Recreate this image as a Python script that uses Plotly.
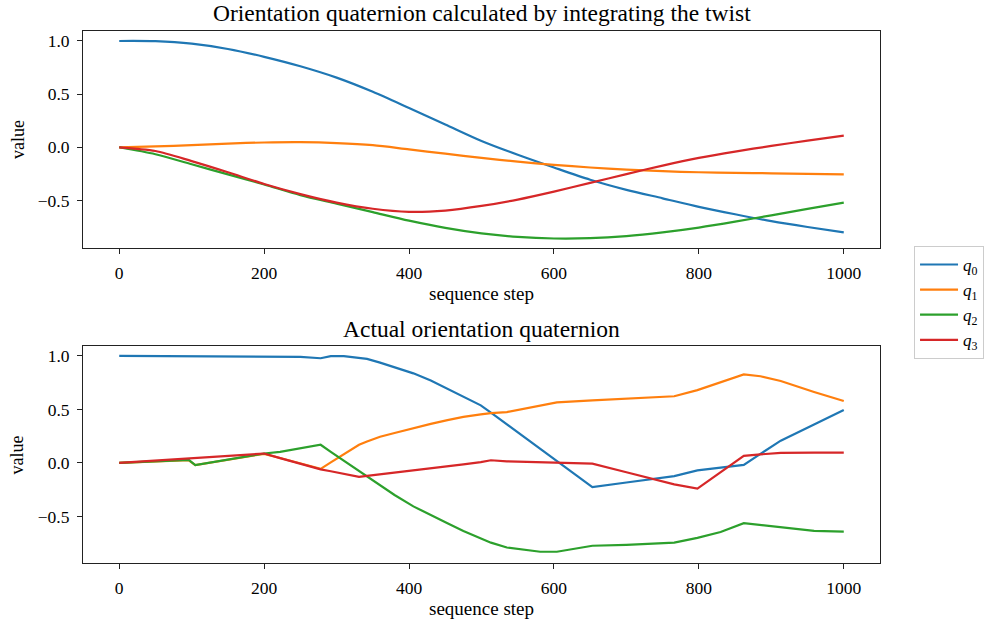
import plotly.graph_objects as go

# ---- integrated-twist quaternion (sampled every 50 steps) ----
steps_int = [0, 50, 100, 150, 200, 250, 300, 350, 400, 450, 500,
             550, 600, 650, 700, 750, 800, 850, 900, 950, 1000]
q0_int = [1.0, 0.998, 0.975, 0.925, 0.851, 0.762, 0.655, 0.522, 0.37, 0.215, 0.06,
          -0.07, -0.19, -0.305, -0.40, -0.48, -0.56, -0.63, -0.695, -0.75, -0.80]
q1_int = [0.0, 0.008, 0.02, 0.035, 0.045, 0.048, 0.04, 0.02, -0.02, -0.06, -0.10,
          -0.135, -0.165, -0.19, -0.21, -0.225, -0.235, -0.24, -0.245, -0.25, -0.255]
q2_int = [0.0, -0.065, -0.16, -0.255, -0.35, -0.45, -0.53, -0.61, -0.69, -0.758, -0.81,
          -0.843, -0.858, -0.855, -0.835, -0.80, -0.755, -0.70, -0.64, -0.58, -0.52]
q3_int = [0.0, -0.035, -0.13, -0.235, -0.345, -0.44, -0.52, -0.578, -0.607, -0.595, -0.552,
          -0.492, -0.417, -0.335, -0.252, -0.172, -0.10, -0.04, 0.013, 0.063, 0.11]

# ---- actual orientation quaternion ----
steps_act = [0, 96, 105, 200, 222, 250, 278, 292, 310, 331, 342, 360, 380, 406, 430,
             453, 475, 499, 513, 535, 560, 581, 604, 653, 700, 766, 798, 830, 862,
             885, 913, 959, 1000]
q0_act = [1.0, 0.997, 0.996, 0.99, 0.993, 0.99, 0.978, 0.998, 0.998, 0.985, 0.972,
          0.937, 0.895, 0.837, 0.77, 0.695, 0.62, 0.538, 0.47, 0.36, 0.235, 0.13,
          0.018, -0.226, -0.183, -0.123, -0.069, -0.045, -0.019, 0.085, 0.208, 0.36,
          0.495]
q1_act = [0.0, 0.025, -0.02, 0.085, 0.046, -0.005, -0.055, 0.005, 0.081, 0.17, 0.2,
          0.245, 0.28, 0.327, 0.365, 0.40, 0.43, 0.453, 0.465, 0.475, 0.51, 0.54,
          0.566, 0.585, 0.60, 0.623, 0.68, 0.755, 0.827, 0.81, 0.765, 0.663, 0.578]
q2_act = [0.0, 0.028, -0.02, 0.088, 0.104, 0.137, 0.17, 0.104, 0.02, -0.079, -0.13,
          -0.21, -0.30, -0.406, -0.49, -0.563, -0.635, -0.70, -0.745, -0.79, -0.815,
          -0.83, -0.83, -0.774, -0.765, -0.745, -0.70, -0.645, -0.563, -0.58, -0.60,
          -0.635, -0.641]
q3_act = [0.0, 0.043, 0.047, 0.088, 0.045, -0.007, -0.06, -0.078, -0.102, -0.13,
          -0.121, -0.107, -0.091, -0.07, -0.05, -0.032, -0.014, 0.008, 0.025, 0.015,
          0.01, 0.005, 0.0, -0.006, -0.087, -0.2, -0.24, -0.087, 0.066, 0.08, 0.094,
          0.096, 0.097]

names = ["<i>q</i><sub>0</sub>", "<i>q</i><sub>1</sub>",
         "<i>q</i><sub>2</sub>", "<i>q</i><sub>3</sub>"]
colors = ["#1f77b4", "#ff7f0e", "#2ca02c", "#d62728"]

FONT = "Liberation Serif"

fig = go.Figure()
for i, (ys, col, nm) in enumerate(zip([q0_int, q1_int, q2_int, q3_int], colors, names)):
    fig.add_trace(go.Scatter(
        x=steps_int, y=ys, mode="lines", name=nm, legendgroup=f"g{i}",
        line=dict(color=col, width=2.2, shape="spline", smoothing=0.8),
        xaxis="x", yaxis="y", showlegend=True))
for i, (ys, col, nm) in enumerate(zip([q0_act, q1_act, q2_act, q3_act], colors, names)):
    fig.add_trace(go.Scatter(
        x=steps_act, y=ys, mode="lines", name=nm, legendgroup=f"g{i}",
        line=dict(color=col, width=2.2),
        xaxis="x2", yaxis="y2", showlegend=False))

axis_common = dict(
    showgrid=False, zeroline=False, showline=True, mirror=True,
    linecolor="#222", linewidth=1, ticks="outside", ticklen=5, tickwidth=1,
    tickcolor="#222", tickfont=dict(family=FONT, size=17.5, color="black"),
    ticklabelstandoff=4,
)

fig.update_layout(
    width=989, height=621,
    margin=dict(l=83, r=109, t=31, b=58, autoexpand=False),
    paper_bgcolor="white", plot_bgcolor="white",
    font=dict(family=FONT, color="black"),
    xaxis=dict(domain=[0, 1], anchor="y", range=[-50, 1050],
               tickvals=[0, 200, 400, 600, 800, 1000], **axis_common),
    yaxis=dict(domain=[0.593, 1], anchor="x", range=[-0.943, 1.094],
               tickvals=[-0.5, 0, 0.5, 1.0], tickformat=".1f", **axis_common),
    xaxis2=dict(domain=[0, 1], anchor="y2", range=[-50, 1050],
                tickvals=[0, 200, 400, 600, 800, 1000], **axis_common),
    yaxis2=dict(domain=[0, 0.408], anchor="x2", range=[-0.935, 1.093],
                tickvals=[-0.5, 0, 0.5, 1.0], tickformat=".1f", **axis_common),
    legend=dict(x=1.0427, y=0.596, xanchor="left", yanchor="top",
                bgcolor="white", bordercolor="#cccccc", borderwidth=1,
                font=dict(family=FONT, size=17, color="black"),
                tracegroupgap=0, itemwidth=38),
)

ann = [
    ("Orientation quaternion calculated by integrating the twist", 0.5, 1.034, 23.5, 0),
    ("Actual orientation quaternion", 0.5, 0.44, 23.5, 0),
    ("value", -0.0816, 0.797, 18, -90),
    ("value", -0.0816, 0.204, 18, -90),
    ("sequence step", 0.5, 0.5075, 19, 0),
    ("sequence step", 0.5, -0.0846, 19, 0),
]
for text, x, y, size, ang in ann:
    fig.add_annotation(text=text, x=x, y=y, xref="paper", yref="paper",
                       xanchor="center", yanchor="middle", showarrow=False,
                       textangle=ang, font=dict(family=FONT, size=size, color="black"))

fig.write_html("out.html")
